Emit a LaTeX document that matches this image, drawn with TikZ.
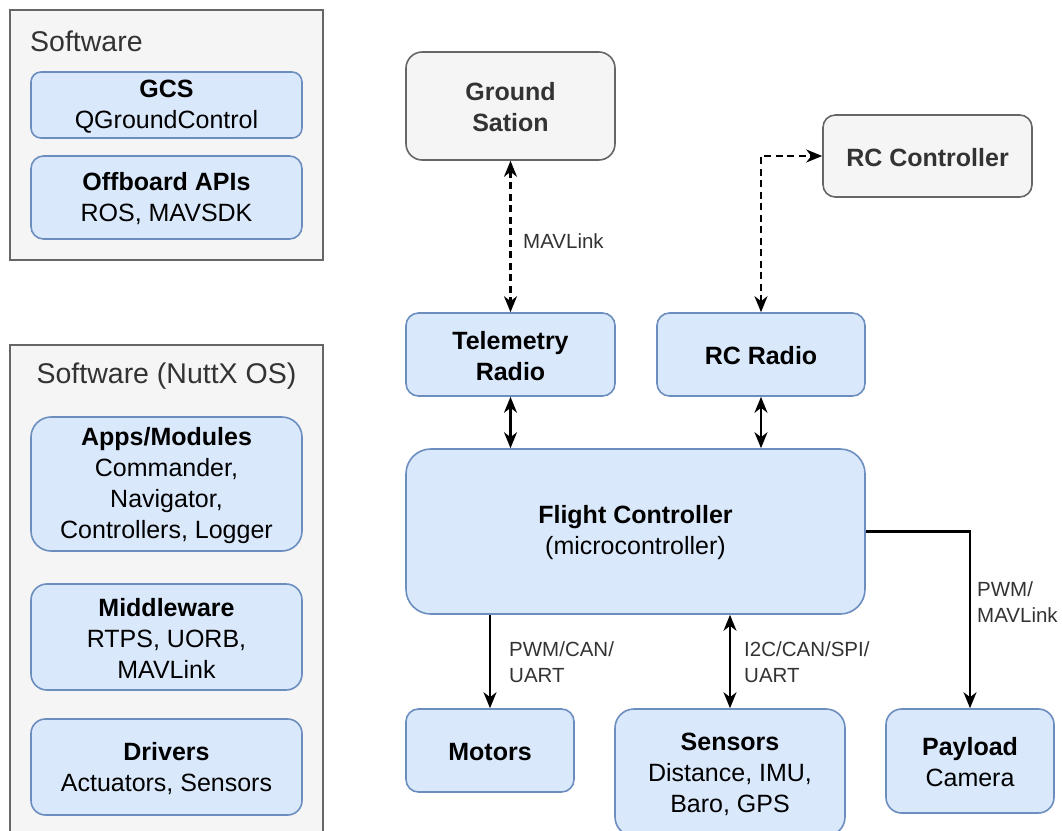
\documentclass[tikz,border=0pt]{standalone}
\usepackage{fontspec}
\setmainfont{Liberation Sans}
\usetikzlibrary{arrows.meta,positioning}

\definecolor{bluefill}{HTML}{DAE8FC}
\definecolor{bluedraw}{HTML}{6C8EBF}
\definecolor{grayfill}{HTML}{F5F5F5}
\definecolor{graydraw}{HTML}{666666}
\definecolor{graytext}{HTML}{333333}

\tikzset{
  boxfont/.style={font=\fontsize{25}{31}\selectfont},
  bluebox/.style={draw=bluedraw, fill=bluefill, line width=1.6pt, inner sep=0pt},
  graybox/.style={draw=graydraw, fill=grayfill, line width=1.6pt, inner sep=0pt},
  bluetext/.style={align=center, boxfont, text=black, inner sep=0pt},
  graytext/.style={align=center, boxfont, text=graytext, inner sep=0pt},
  panel/.style={draw=graydraw, fill=grayfill, line width=1.6pt},
  paneltitle/.style={font=\fontsize{28.5}{33}\selectfont, text=graytext, inner sep=0pt},
  linklabel/.style={font=\fontsize{20.5}{26}\selectfont, text=graytext, align=left,
    inner sep=0pt, anchor=west},
  tip/.style={-{Stealth[length=16pt,width=13pt,inset=5pt]}},
  tips/.style={{Stealth[length=16pt,width=13pt,inset=5pt]}-{Stealth[length=16pt,width=13pt,inset=5pt]}},
  link/.style={line width=2.2pt, black},
  dlink/.style={line width=2.2pt, black, dash pattern=on 7pt off 4.5pt},
}

% box from corner (x1,y1) to (x2,y2), y measured downward, with its text
\newcommand{\boxat}[8]{%
  \pgfmathsetmacro{\bw}{#4-#2}\pgfmathsetmacro{\bh}{#5-#3}%
  \pgfmathsetmacro{\br}{0.15*min(\bw,\bh)}%
  \node[#6, minimum width=\bw pt, minimum height=\bh pt, rounded corners=\br pt]
    (#1) at ({(#2+#4)/2},{(#3+#5)/2}) {};
  \node[#7] (#1-text) at ([yshift=-1.5pt]#1.center) {#8};}

\begin{document}
\begin{tikzpicture}[x=1pt,y=-1pt]
\useasboundingbox (0,0) rectangle (1062,830);
\clip (0,0) rectangle (1062,830);

% software panels
\draw[panel] (10,10) rectangle (323,260);
\node[paneltitle, anchor=west] (t1) at (30,41) {Software};
\boxat{gcs}{31}{72}{302}{138}{bluebox}{bluetext}{\textbf{GCS}\\QGroundControl}
\boxat{offb}{31}{156}{302}{239}{bluebox}{bluetext}{\textbf{Offboard APIs}\\ROS, MAVSDK}

\draw[panel] (10,345) rectangle (323,860);
\node[paneltitle] (t2) at (166.5,376) {Software (NuttX OS)};
\boxat{apps}{31}{417}{302}{551}{bluebox}{bluetext}{\textbf{Apps/Modules}\\Commander,\\Navigator,\\Controllers, Logger}
\boxat{mid}{31}{584}{302}{690}{bluebox}{bluetext}{\textbf{Middleware}\\RTPS, UORB,\\MAVLink}
\boxat{drv}{31}{719}{302}{815}{bluebox}{bluetext}{\textbf{Drivers}\\Actuators, Sensors}

% hardware
\boxat{gs}{406}{52}{615}{160}{graybox}{graytext}{\textbf{Ground}\\\textbf{Sation}}
\boxat{rcc}{823}{115}{1032}{197}{graybox}{graytext}{\textbf{RC Controller}}
\boxat{tel}{406}{313}{615}{396}{bluebox}{bluetext}{\textbf{Telemetry}\\\textbf{Radio}}
\boxat{rcr}{657}{313}{865}{396}{bluebox}{bluetext}{\textbf{RC Radio}}
\boxat{fc}{406}{449}{865}{614}{bluebox}{bluetext}{\textbf{Flight Controller}\\(microcontroller)}
\boxat{mot}{406}{709}{574}{792}{bluebox}{bluetext}{\textbf{Motors}}
\boxat{sen}{615}{709}{845}{836}{bluebox}{bluetext}{\textbf{Sensors}\\Distance, IMU,\\Baro, GPS}
\boxat{pay}{886}{709}{1054}{813}{bluebox}{bluetext}{\textbf{Payload}\\Camera}

% connectors
\coordinate (rcbend) at (rcr.north |- rcc.west);
\draw[dlink, tips] (gs.south) -- (tel.north);
\draw[dlink, tips] (rcr.north) -- (rcbend) -- (rcc.west);
\draw[link, tips] (tel.south) -- (tel.south |- fc.north);
\draw[link, tips] (rcr.south) -- (rcr.south |- fc.north);
\draw[link, tip] (mot.north |- fc.south) -- (mot.north);
\draw[link, tips] (sen.north |- fc.south) -- (sen.north);
\coordinate (paybend) at (pay.north |- fc.east);
\draw[link, tip] (fc.east) -- (paybend) -- (pay.north);

% link labels
\node[linklabel] (l1) at (523,241) {MAVLink};
\node[linklabel] (l2) at (509,662) {PWM/CAN/\\UART};
\node[linklabel] (l3) at (744,662) {I2C/CAN/SPI/\\UART};
\node[linklabel] (l4) at (977,602) {PWM/\\MAVLink};
\end{tikzpicture}
\end{document}
